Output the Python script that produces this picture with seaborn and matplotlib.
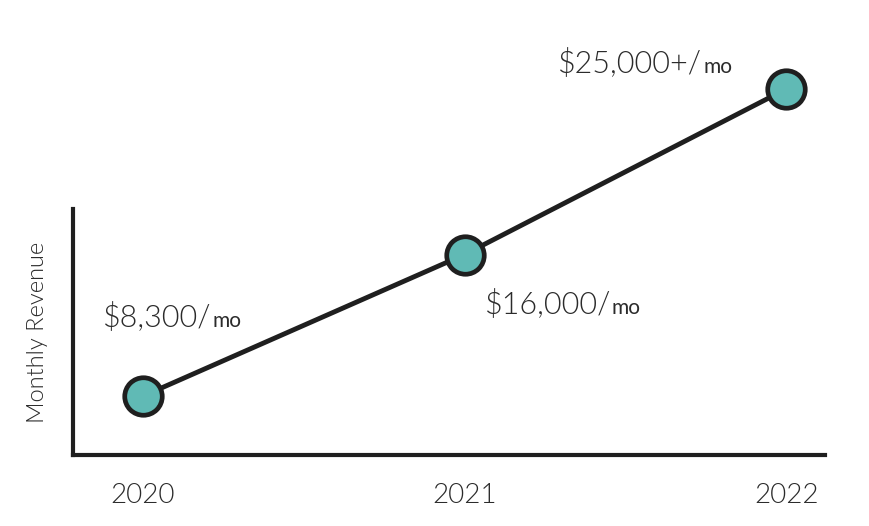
import matplotlib
matplotlib.use("Agg")
import numpy as np
import pandas as pd
import matplotlib.pyplot as plt
import seaborn as sns

# data
years = [2020, 2021, 2022]
revenue = [8300, 16000, 25000]
labels = [r"\$8,300/", r"\$16,000/", r"\$25,000+/"]
# label offsets from each point, in pixels (left edge, baseline)
offsets = [(-40, 69), (20, -59), (-228, 16)]

sns.set_theme(style="white")
plt.rcParams["font.family"] = ["Lato", "DejaVu Sans"]

dark = "#1f1f1f"
teal = "#60bab5"
txt = "#2b2b2b"

fig = plt.figure(figsize=(8.7, 5.26), dpi=100)
ax = fig.add_axes([73 / 870, 71 / 526, 752 / 870, 435 / 526])

df = pd.DataFrame({"year": years, "revenue": revenue})
sns.lineplot(data=df, x="year", y="revenue", ax=ax, color=dark, linewidth=3.5,
             marker="o", markersize=27, markerfacecolor=teal,
             markeredgecolor=dark, markeredgewidth=3.4, clip_on=False, zorder=3)

ax.set_xlim(2019.782, 2022.121)
ax.set_ylim(5092, 28760)

sns.despine(ax=ax)
for s in ["left", "bottom"]:
    ax.spines[s].set_color(dark)
    ax.spines[s].set_linewidth(3)
    ax.spines[s].set_capstyle("projecting")
ax.spines["left"].set_bounds(5092, 18476)

ax.set_xticks(years)
ax.set_xticklabels([str(y) for y in years], fontsize=20, fontweight=300, color=txt)
ax.tick_params(axis="x", length=0, pad=20)
ax.set_yticks([])
ax.set_xlabel("")
ax.set_ylabel("Monthly Revenue", fontsize=17, fontweight=300, color=txt)
ax.yaxis.set_label_coords(-0.033, 0.283)

texts = []
for x, y, lab, (dx, dy) in zip(years, revenue, labels, offsets):
    t = ax.annotate(lab, xy=(x, y), xytext=(dx, dy), textcoords="offset pixels",
                    ha="left", va="baseline", fontsize=22, fontweight=300,
                    color=txt, annotation_clip=False)
    texts.append(t)

fig.canvas.draw()
for t, x, y, (dx, dy) in zip(texts, years, revenue, offsets):
    w = t.get_window_extent().width
    ax.annotate("mo", xy=(x, y), xytext=(dx + w + 1, dy), textcoords="offset pixels",
                ha="left", va="baseline", fontsize=15, fontweight="normal",
                color=txt, annotation_clip=False)

fig.savefig("out.png", dpi=100)
